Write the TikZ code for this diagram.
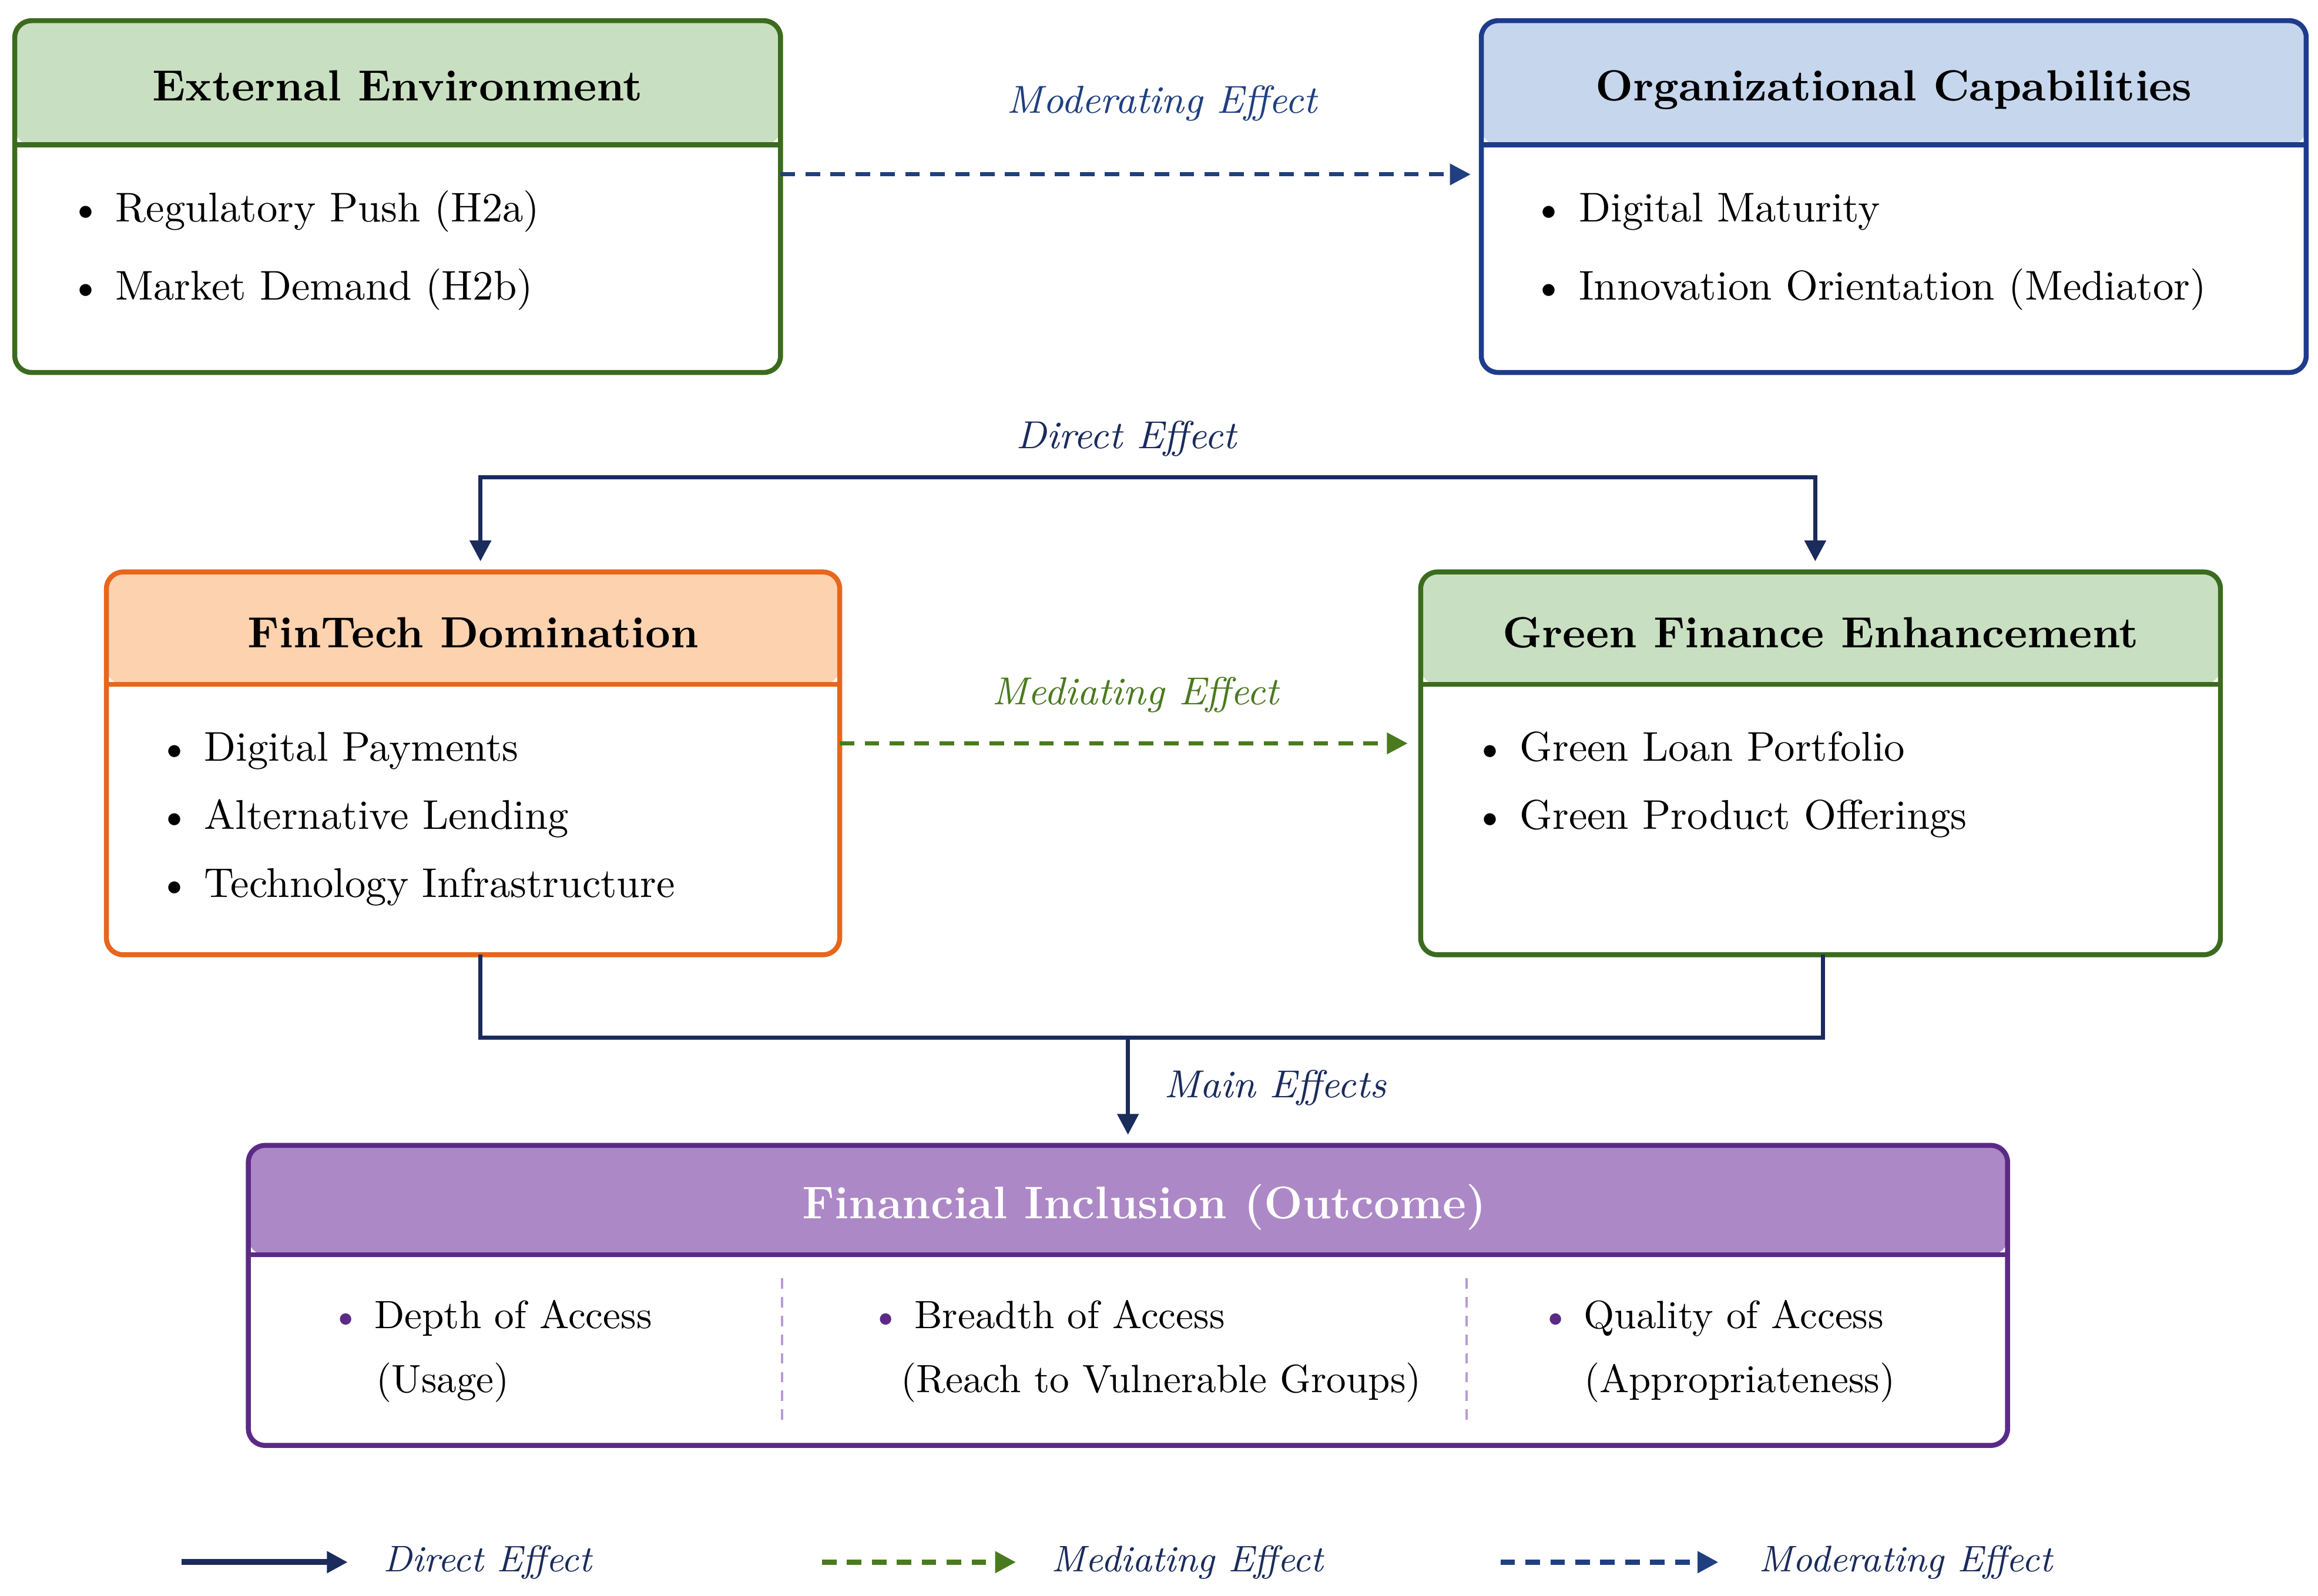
\documentclass[tikz,border=0pt]{standalone}
\usetikzlibrary{arrows.meta}

\definecolor{grnL}{HTML}{C9DFC1}
\definecolor{grnD}{HTML}{3B6B1E}
\definecolor{bluL}{HTML}{C6D6EC}
\definecolor{bluD}{HTML}{1E3C8C}
\definecolor{orgL}{HTML}{FDD2AE}
\definecolor{orgD}{HTML}{E8661C}
\definecolor{purL}{HTML}{AD88C6}
\definecolor{purD}{HTML}{5B2A86}
\definecolor{purS}{HTML}{B89BD3}
\definecolor{navy}{HTML}{1A2B5C}
\definecolor{modB}{HTML}{1F3F80}
\definecolor{medG}{HTML}{4A7A1F}

\newcommand{\bul}{\makebox[3.9mm][l]{\textbullet}}
\newcommand{\pbul}{\makebox[3.7mm][l]{\textcolor{purD}{\textbullet}}}

\tikzset{
  % border colour, header fill, header depth
  card/.style n args={3}{draw=#1, line width=1.2pt, rounded corners=4pt, outer sep=0pt,
    path picture={
      \fill[#2] (path picture bounding box.north west) rectangle
        ([yshift=-#3]path picture bounding box.north east);
      \draw[#1, line width=1.2pt] ([yshift=-#3]path picture bounding box.north west) --
        ([yshift=-#3]path picture bounding box.north east);}},
  title/.style={anchor=base, font=\fontsize{10.5}{12}\selectfont\bfseries},
  item/.style={anchor=base west, inner sep=0pt, font=\fontsize{10}{12}\selectfont},
  sitem/.style={item, font=\fontsize{9.5}{12}\selectfont},
  lbl/.style={font=\fontsize{9.4}{11}\selectfont\itshape, inner sep=1pt},
  lgd/.style={lbl, anchor=west, text=navy, font=\fontsize{8.9}{11}\selectfont\itshape},
  tip/.style={-{Triangle[length=5pt,width=5pt]}},
  dir/.style={draw=navy, line width=1pt, tip},
  dirline/.style={draw=navy, line width=1pt},
  med/.style={draw=medG, line width=1pt, dash pattern=on 3.5pt off 2.5pt, tip},
  mod/.style={draw=modB, line width=1pt, dash pattern=on 3.5pt off 2.5pt, tip},
  divline/.style={draw=purS, line width=0.6pt, dash pattern=on 2.5pt off 2pt}
}

\begin{document}
\begin{tikzpicture}
\useasboundingbox (0,0) rectangle (19.6,-13.494);

% external environment
\node[card={grnD}{grnL}{1.05cm}, minimum width=6.475cm, minimum height=2.975cm] (ext) at (3.3625,-1.6625) {};
\node[title] (extT) at (3.3625,-0.852) {External Environment};
\node[item] (ext1) at (0.58,-1.875) {\bul Regulatory Push (H2a)};
\node[item] (ext2) at (0.58,-2.5375) {\bul Market Demand (H2b)};

% organizational capabilities
\node[card={bluD}{bluL}{1.05cm}, minimum width=6.975cm, minimum height=2.975cm] (org) at (16.0125,-1.6625) {};
\node[title] (orgT) at (16.0125,-0.852) {Organizational Capabilities};
\node[item] (org1) at (12.955,-1.875) {\bul Digital Maturity};
\node[item] (org2) at (12.955,-2.5375) {\bul Innovation Orientation (Mediator)};

% fintech
\node[card={orgD}{orgL}{0.95cm}, minimum width=6.2cm, minimum height=3.2375cm] (fin) at (4.0,-6.45625) {};
\node[title] (finT) at (4.0,-5.477) {FinTech Domination};
\node[item] (fin1) at (1.33,-6.4375) {\bul Digital Payments};
\node[item] (fin2) at (1.33,-7.0125) {\bul Alternative Lending};
\node[item] (fin3) at (1.33,-7.5875) {\bul Technology Infrastructure};

% green finance
\node[card={grnD}{grnL}{0.95cm}, minimum width=6.7625cm, minimum height=3.2375cm] (gfe) at (15.39375,-6.45625) {};
\node[title] (gfeT) at (15.39375,-5.477) {Green Finance Enhancement};
\node[item] (gfe1) at (12.455,-6.4375) {\bul Green Loan Portfolio};
\node[item] (gfe2) at (12.455,-7.0125) {\bul Green Product Offerings};

% outcome
\node[card={purD}{purL}{0.925cm}, minimum width=14.875cm, minimum height=2.5375cm] (fi) at (9.5375,-10.95625) {};
\node[title, font=\fontsize{11}{13}\selectfont\bfseries, text=white] (fiT) at (9.675,-10.308) {Financial Inclusion (Outcome)};
\node[sitem] (fi1) at (2.79,-11.2375) {\pbul Depth of Access};
\node[sitem] (fi1b) at (3.175,-11.775) {(Usage)};
\node[sitem] (fi2) at (7.355,-11.2375) {\pbul Breadth of Access};
\node[sitem] (fi2b) at (7.6125,-11.775) {(Reach to Vulnerable Groups)};
\node[sitem] (fi3) at (13.015,-11.2375) {\pbul Quality of Access};
\node[sitem] (fi3b) at (13.3875,-11.775) {(Appropriateness)};
\draw[divline] (6.6125,-10.8125) -- (6.6125,-12.0625);
\draw[divline] (12.4,-10.8125) -- (12.4,-12.0625);

% effects
\draw[mod, shorten >=0.9mm] ([yshift=1.875mm]ext.east) -- ([yshift=1.875mm]org.west);
\node[lbl, text=modB] (modL) at (9.825,-0.875) {Moderating Effect};

\coordinate (dtop) at (9.55,-4.0375);
\draw[dir, shorten >=0.9mm] (dtop) -| ([xshift=0.625mm]fin.north);
\draw[dir, shorten >=0.9mm] (dtop) -| ([xshift=-0.45mm]gfe.north);
\node[lbl, text=navy] (dirL) at (9.525,-3.7125) {Direct Effect};

\draw[med, shorten >=1.1mm] ([yshift=1.69mm]fin.east) -- ([yshift=1.69mm]gfe.west);
\node[lbl, text=medG] (medL) at (9.6,-5.875) {Mediating Effect};

\coordinate (mjoin) at (fi.north |- 0,-8.775);
\draw[dirline] ([xshift=0.625mm]fin.south) |- (mjoin) -| ([xshift=0.2mm]gfe.south);
\draw[dir, shorten >=0.9mm] (mjoin) -- (fi.north);
\node[lbl, text=navy, anchor=west] (mainL) at (9.8,-9.2) {Main Effects};

% legend
\node[lgd] (lgDir) at (3.2,-13.2125) {Direct Effect};
\node[lgd] (lgMed) at (8.85,-13.2125) {Mediating Effect};
\node[lgd] (lgMod) at (14.83,-13.2125) {Moderating Effect};
\coordinate (lgDirS) at (1.5375,-13.2125);
\coordinate (lgMedS) at (6.95,-13.2125);
\coordinate (lgModS) at (12.6875,-13.2125);
\draw[dir, line width=1.4pt] (lgDirS) -- ([xshift=-2.6mm]lgDir.west);
\draw[med, line width=1.2pt] (lgMedS) -- ([xshift=-2.6mm]lgMed.west);
\draw[mod, line width=1.2pt] (lgModS) -- ([xshift=-3mm]lgMod.west);
\end{tikzpicture}
\end{document}
